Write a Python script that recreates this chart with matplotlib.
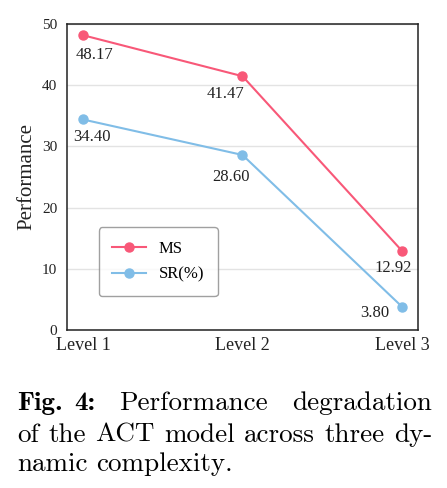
import matplotlib
matplotlib.use("Agg")
import matplotlib.pyplot as plt

# data
levels = ["Level 1", "Level 2", "Level 3"]
ms = [48.17, 41.47, 12.92]
sr = [34.40, 28.60, 3.80]
# label offsets in pixels (dx, dy)
ms_off = [(12, -20), (-17, -18), (-9, -17)]
sr_off = [(9, -18), (-11, -22), (-27, -6)]

caption = [
    [("Fig.", "bold"), ("4:", "bold"), ("Performance", "normal"), ("degradation", "normal")],
    [("of", "normal"), ("the", "normal"), ("ACT", "normal"), ("model", "normal"),
     ("across", "normal"), ("three", "normal"), ("dy-", "normal")],
    [("namic", "normal"), ("complexity.", "normal")],
]

red = "#f85878"
blue = "#80bde7"

plt.rcParams["font.family"] = ["Liberation Serif", "DejaVu Serif"]

fig = plt.figure(figsize=(4.47, 4.88), dpi=100)
W, H = 447, 488
ax = fig.add_axes([67 / W, 1 - 330 / H, (418 - 67) / W, (330 - 24) / H])

x = list(range(len(levels)))
ax.plot(x, ms, color=red, lw=1.5, marker="o", ms=6.5, label="MS", zorder=3)
ax.plot(x, sr, color=blue, lw=1.5, marker="o", ms=6.5, label="SR(%)", zorder=3)

for xi, v, o in zip(x, ms, ms_off):
    ax.annotate(f"{v:.2f}", (xi, v), xytext=o, textcoords="offset pixels",
                ha="center", va="center", fontsize=12, color="#222222")
for xi, v, o in zip(x, sr, sr_off):
    ax.annotate(f"{v:.2f}", (xi, v), xytext=o, textcoords="offset pixels",
                ha="center", va="center", fontsize=12, color="#222222")

ax.set_xlim(-0.1, 2.1)
ax.set_ylim(0, 50)
ax.set_xticks(x)
ax.set_xticklabels(levels, fontsize=13)
ax.set_yticks([0, 10, 20, 30, 40, 50])
ax.tick_params(axis="y", labelsize=11, length=0, pad=7, colors="#222222")
ax.tick_params(axis="x", length=0, pad=5, colors="#222222")
ax.set_ylabel("Performance", fontsize=15, color="#222222", labelpad=4)
ax.yaxis.grid(True, color="#e3e3e3", lw=1)
ax.set_axisbelow(True)
for s in ax.spines.values():
    s.set_color("#222222")
    s.set_linewidth(1.1)

leg = ax.legend(loc="lower left", bbox_to_anchor=(0.091, 0.111), borderaxespad=0,
                fontsize=12, handlelength=2.0, frameon=True, fancybox=True,
                borderpad=0.8, labelspacing=0.6)
leg.get_frame().set_edgecolor("#888888")
leg.get_frame().set_linewidth(1.0)

# justified caption
fig.canvas.draw()
r = fig.canvas.get_renderer()
x0, x1 = 17, 432
baselines = [410, 442, 471]
fsize = 19.5
for i, (line, yb) in enumerate(zip(caption, baselines)):
    texts = []
    for word, wt in line:
        fam = "cmb10" if wt == "bold" else "cmr10"
        t = fig.text(0, 1 - yb / H, word, fontfamily=fam, fontsize=fsize, va="baseline", ha="left")
        texts.append(t)
    widths = [t.get_window_extent(r).width for t in texts]
    if i == 0:
        # "Fig. 4:" is set with a fixed small gap, the rest is stretched
        texts[0].set_x(x0 / W)
        texts[1].set_x(74 / W)
        start = 74 + widths[1]
        rest_t, rest_w = texts[2:], widths[2:]
        gap = (x1 - start - sum(rest_w)) / len(rest_t)
        pos = start + gap
        for t, w in zip(rest_t, rest_w):
            t.set_x(pos / W)
            pos += w + gap
        continue
    if i < len(caption) - 1:
        gap = (x1 - x0 - sum(widths)) / (len(texts) - 1)
    else:
        gap = fsize * 100 / 72 * 0.33
    pos = x0
    for t, w in zip(texts, widths):
        t.set_x(pos / W)
        pos += w + gap

fig.savefig("out.png", dpi=100)
